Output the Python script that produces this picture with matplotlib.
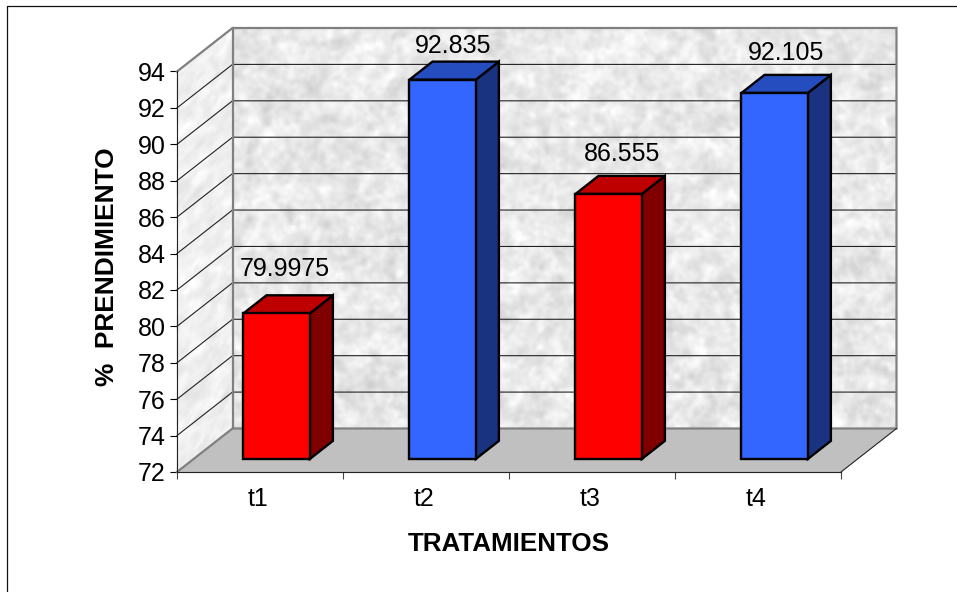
import matplotlib
matplotlib.use("Agg")
import matplotlib.pyplot as plt
import numpy as np
from matplotlib.lines import Line2D
from matplotlib.patches import Polygon

categories = ["t1", "t2", "t3", "t4"]
values = [79.9975, 92.835, 86.555, 92.105]
value_labels = ["79.9975", "92.835", "86.555", "92.105"]
y_ticks = list(range(72, 96, 2))
x_title = "TRATAMIENTOS"
y_title = "%  PRENDIMIENTO"

W, H = 957, 592
FRONT = {"face": ["#FF0000", "#3366FF"], "side": ["#800000", "#1A3380"], "top": ["#BF0000", "#264DBF"]}

plt.rcParams["font.family"] = ["Liberation Sans", "DejaVu Sans"]


def marble(shape, seed):
    """Soft speckled grey used on the walls."""
    rng = np.random.default_rng(seed)
    ny, nx = shape
    fy = np.fft.fftfreq(ny)[:, None]
    fx = np.fft.fftfreq(nx)[None, :]
    out = np.zeros(shape)
    for sigma, weight in [(0.9, 0.8), (2.2, 1.0)]:
        kernel = np.exp(-2 * (np.pi * sigma) ** 2 * (fx ** 2 + fy ** 2))
        layer = np.fft.ifft2(np.fft.fft2(rng.normal(size=shape)) * kernel).real
        out += weight * layer / layer.std()
    return out / out.std()


fig = plt.figure(figsize=(W / 100, H / 100), dpi=100)
ax = fig.add_axes([177 / W, (H - 472) / H, 664 / W, 400.5 / H])
ax.set_xlim(0, 4)
ax.set_ylim(72, 94)
ax.patch.set_visible(False)

# depth of the box, in data units per unit of depth
DX = 55.5 / 166
DY = 43.5 / (400.5 / 22)


def proj(x, v, d):
    return x + d * DX, v + d * DY


def poly(points, **kw):
    ax.add_patch(Polygon([proj(*p) for p in points], closed=True, clip_on=False, **kw))


# back wall and left wall
u = np.linspace(0, 4, 333)
v = np.linspace(72, 94, 201)
xx, vv = np.meshgrid(u, v)
bx, by = proj(xx, vv, 1.0)
ax.pcolormesh(bx, by, 0.915 + 0.03 * marble(xx.shape, 3), cmap="gray", vmin=0, vmax=1,
              shading="gouraud", clip_on=False, zorder=1)
d = np.linspace(0, 1, 30)
dd, vv2 = np.meshgrid(d, v)
sx, sy = proj(0 * dd, vv2, dd)
ax.pcolormesh(sx, sy, 0.945 + 0.02 * marble(dd.shape, 8), cmap="gray", vmin=0, vmax=1,
              shading="gouraud", clip_on=False, zorder=1)

# floor
poly([(0, 72, 0), (4, 72, 0), (4, 72, 1), (0, 72, 1)], facecolor="#C0C0C0", edgecolor="none", zorder=2)

# gridlines run along the left wall and across the back
for tick in y_ticks[1:-1]:
    ax.plot(*zip(proj(0, tick, 0), proj(0, tick, 1), proj(4, tick, 1)), color="#222222", lw=0.8,
            clip_on=False, zorder=3)

# wall outlines
ax.plot(*zip(proj(0, 94, 0), proj(0, 94, 1), proj(4, 94, 1), proj(4, 72, 1), proj(0, 72, 1), proj(0, 72, 0)),
        color="#808080", lw=1.6, clip_on=False, zorder=4, solid_joinstyle="miter")
ax.plot(*zip(proj(0, 94, 1), proj(0, 72, 1)), color="#808080", lw=1.6, clip_on=False, zorder=4)
ax.plot(*zip(proj(4, 72, 0), proj(4, 72, 1)), color="#222222", lw=0.8, clip_on=False, zorder=4)

# bars stand in the middle of the floor depth
BAR_W = 0.4
D0, D1 = 0.30, 0.715
for i, val in enumerate(values):
    c = i % 2
    x0, x1 = i + 0.5 - BAR_W / 2, i + 0.5 + BAR_W / 2
    style = dict(edgecolor="black", lw=1.7, joinstyle="miter", zorder=5)
    poly([(x1, 72, D0), (x1, 72, D1), (x1, val, D1), (x1, val, D0)], facecolor=FRONT["side"][c], **style)
    poly([(x0, val, D0), (x1, val, D0), (x1, val, D1), (x0, val, D1)], facecolor=FRONT["top"][c], **style)
    poly([(x0, 72, D0), (x1, 72, D0), (x1, val, D0), (x0, val, D0)], facecolor=FRONT["face"][c], **style)

# value labels sit above the bar tops
nudges = [(-15, 26), (-13, 16), (-10, 22), (-12, 22)]
for i, val in enumerate(values):
    ax.annotate(value_labels[i], proj(i + 0.5, val, D1), xytext=(nudges[i][0] * 0.72, nudges[i][1] * 0.72),
                textcoords="offset points", ha="center", va="center", fontsize=18, color="black",
                annotation_clip=False, zorder=6)

# axes
for side in ["top", "right"]:
    ax.spines[side].set_visible(False)
for side in ["left", "bottom"]:
    ax.spines[side].set_linewidth(0.8)
    ax.spines[side].set_color("#222222")
    ax.spines[side].set_zorder(4)
ax.set_yticks(y_ticks)
ax.set_xticks(range(5))
ax.set_xticklabels([])
ax.set_xticks([i + 0.5 - 0.012 for i in range(4)], minor=True)
ax.set_xticklabels(categories, minor=True)
ax.tick_params(axis="x", which="minor", length=0, pad=11, labelsize=18)
ax.tick_params(axis="x", which="major", length=5, width=0.8, color="#444444")
ax.tick_params(axis="y", length=5, width=0.8, pad=3, labelsize=18)

fig.text(509 / W, 1 - 544 / H, x_title, ha="center", va="center", fontsize=18.7, fontweight="bold")
fig.text(107.5 / W, 1 - 267 / H, y_title, ha="center", va="center", rotation=90, fontsize=18.9, fontweight="bold")

# frame around the chart area
fig.add_artist(Line2D([7.5 / W, 7.5 / W, 1], [0, 1 - 5.5 / H, 1 - 5.5 / H], color="#111111", lw=0.9))

fig.savefig("out.png", dpi=100)
